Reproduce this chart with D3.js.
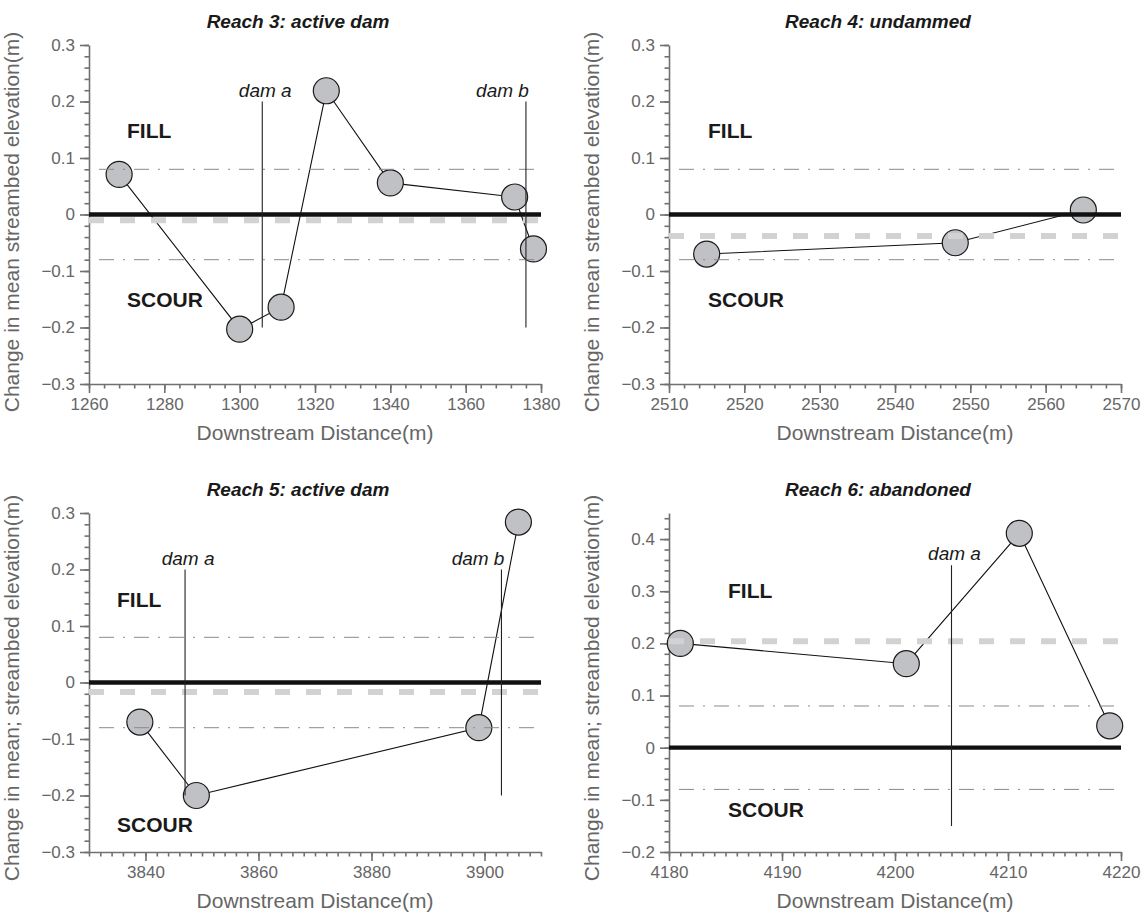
<!DOCTYPE html>
<html>
<head>
<meta charset="utf-8">
<script src="https://cdn.jsdelivr.net/npm/d3@7.9.0/dist/d3.min.js"></script>
<style>
  body { margin: 0; background: #fff; }
  svg { font-family: "Liberation Sans", Arial, Helvetica, sans-serif; }
</style>
</head>
<body>
<svg id="chart" width="1148" height="914"></svg>
<script>
// survey points: downstream distance (m) and change in mean streambed elevation (m)
const reach3Dist = [1268, 1300, 1311, 1323, 1340, 1373, 1378];
const reach3Change = [0.071, -0.203, -0.164, 0.219, 0.056, 0.031, -0.061];
const reach4Dist = [2515, 2548, 2565];
const reach4Change = [-0.07, -0.05, 0.008];
const reach5Dist = [3839, 3849, 3899, 3906];
const reach5Change = [-0.07, -0.2, -0.08, 0.284];
const reach6Dist = [4181, 4201, 4211, 4219];
const reach6Change = [0.2, 0.161, 0.411, 0.042];

const titles = ['Reach 3: active dam', 'Reach 4: undammed', 'Reach 5: active dam', 'Reach 6: abandoned'];
const yLabels = [
  'Change in mean streambed elevation(m)',
  'Change in mean streambed elevation(m)',
  'Change in mean; streambed elevation(m)',
  'Change in mean; streambed elevation(m)'
];
const xLabel = 'Downstream Distance(m)';

const xDomains = [[1260, 1380], [2510, 2570], [3830, 3910], [4180, 4220]];
const yDomains = [[-0.3, 0.3], [-0.3, 0.3], [-0.3, 0.3], [-0.2, 0.45]];
const xTicks = [
  [1260, 1280, 1300, 1320, 1340, 1360, 1380],
  [2510, 2520, 2530, 2540, 2550, 2560, 2570],
  [3840, 3860, 3880, 3900],
  [4180, 4190, 4200, 4210, 4220]
];
const xMinorStep = [4, 2, 2, 1];
const yTicks = [
  [-0.3, -0.2, -0.1, 0, 0.1, 0.2, 0.3],
  [-0.3, -0.2, -0.1, 0, 0.1, 0.2, 0.3],
  [-0.3, -0.2, -0.1, 0, 0.1, 0.2, 0.3],
  [-0.2, -0.1, 0, 0.1, 0.2, 0.3, 0.4]
];
const yMinorStep = 0.02;

const meanChange = [-0.01, -0.038, -0.017, 0.204];   // thick grey dashed line
const threshold = 0.08;                              // dash-dot lines at +/-
const damNames = [['dam a', 'dam b'], [], ['dam a', 'dam b'], ['dam a']];
const damDist = [[1306, 1376], [], [3847, 3903], [4205]];
const damSpan = [[-0.2, 0.2], [], [-0.2, 0.2], [-0.15, 0.35]];

const series = [
  reach3Dist.map((d, i) => ({ x: d, y: reach3Change[i] })),
  reach4Dist.map((d, i) => ({ x: d, y: reach4Change[i] })),
  reach5Dist.map((d, i) => ({ x: d, y: reach5Change[i] })),
  reach6Dist.map((d, i) => ({ x: d, y: reach6Change[i] }))
];

// layout
const plotW = 452, plotH = 339;
const origins = [[89, 45], [669, 45], [89, 513], [669, 513]];
// FILL / SCOUR text positions relative to the plot corner
const fillPos = [[38, 93], [39, 93], [28, 94], [59, 85]];
const scourPos = [[38, 262], [39, 262], [28, 319], [59, 304]];

const axisColor = '#707070';
const tickText = '#666';

const svg = d3.select('#chart');

const fmtY = d => d === 0 ? '0' : d3.format('.1f')(d);
const fmtX = d3.format('d');

function minorTicks(dom, step) {
  let out = [];
  let start = Math.ceil(dom[0] / step - 1e-9) * step;
  for (let v = start; v <= dom[1] + 1e-9; v += step) out.push(Math.round(v * 1000) / 1000);
  return out;
}

function drawPanel(p) {
  const [ox, oy] = origins[p];
  const g = svg.append('g').attr('transform', `translate(${ox},${oy})`);

  const x = d3.scaleLinear().domain(xDomains[p]).range([0, plotW]);
  const y = d3.scaleLinear().domain(yDomains[p]).range([plotH, 0]);

  // minor ticks
  g.append('g')
    .attr('transform', `translate(0,${plotH})`)
    .call(d3.axisBottom(x).tickValues(minorTicks(xDomains[p], xMinorStep[p])).tickSize(4.5).tickSizeOuter(0).tickFormat(''))
    .call(a => a.select('.domain').remove());
  g.append('g')
    .call(d3.axisLeft(y).tickValues(minorTicks(yDomains[p], yMinorStep)).tickSize(4.5).tickSizeOuter(0).tickFormat(''))
    .call(a => a.select('.domain').remove());

  // major axes
  g.append('g')
    .attr('transform', `translate(0,${plotH})`)
    .call(d3.axisBottom(x).tickValues(xTicks[p]).tickSize(9).tickSizeOuter(0).tickPadding(5).tickFormat(fmtX));
  g.append('g')
    .call(d3.axisLeft(y).tickValues(yTicks[p]).tickSize(9).tickSizeOuter(0).tickPadding(5).tickFormat(fmtY));

  g.selectAll('g').attr('font-family', null).attr('font-size', null);
  g.selectAll('.tick line, .domain').attr('stroke', axisColor).attr('stroke-width', 1.6);
  g.selectAll('.tick text').attr('fill', tickText).attr('font-size', 17);

  // data line and points
  const line = d3.line().x(d => x(d.x)).y(d => y(d.y));
  g.append('path')
    .datum(series[p])
    .attr('d', line)
    .attr('fill', 'none')
    .attr('stroke', '#111')
    .attr('stroke-width', 1.1);
  g.selectAll('circle.pt')
    .data(series[p])
    .join('circle')
    .attr('class', 'pt')
    .attr('cx', d => x(d.x))
    .attr('cy', d => y(d.y))
    .attr('r', 13)
    .attr('fill', '#c0c1c5')
    .attr('stroke', '#1a1a1a')
    .attr('stroke-width', 1.2);

  // threshold dash-dot lines
  [threshold, -threshold].forEach(t => {
    g.append('line')
      .attr('x1', x(xDomains[p][0]) + 10).attr('x2', x(xDomains[p][1]))
      .attr('y1', y(t)).attr('y2', y(t))
      .attr('stroke', '#8a8a8a')
      .attr('stroke-width', 1)
      .attr('stroke-dasharray', '15,9,2,9');
  });

  // mean change (thick grey dashes)
  g.append('line')
    .attr('x1', x(xDomains[p][0])).attr('x2', x(xDomains[p][1]))
    .attr('y1', y(meanChange[p])).attr('y2', y(meanChange[p]))
    .attr('stroke', '#d2d2d2')
    .attr('stroke-width', 6)
    .attr('stroke-dasharray', '15,16');

  // zero line
  g.append('line')
    .attr('x1', x(xDomains[p][0])).attr('x2', x(xDomains[p][1]))
    .attr('y1', y(0)).attr('y2', y(0))
    .attr('stroke', '#111')
    .attr('stroke-width', 4.3);

  // dams
  damDist[p].forEach((dx, i) => {
    g.append('line')
      .attr('x1', x(dx)).attr('x2', x(dx))
      .attr('y1', y(damSpan[p][0])).attr('y2', y(damSpan[p][1]))
      .attr('stroke', '#222')
      .attr('stroke-width', 1.1);
    const isB = damNames[p][i] === 'dam b';
    g.append('text')
      .attr('x', x(dx) + 3)
      .attr('y', y(damSpan[p][1]) - 5)
      .attr('text-anchor', isB ? 'end' : 'middle')
      .attr('font-size', 19)
      .attr('font-style', 'italic')
      .attr('fill', '#1a1a1a')
      .text(damNames[p][i]);
  });

  // FILL / SCOUR
  g.append('text')
    .attr('x', fillPos[p][0]).attr('y', fillPos[p][1])
    .attr('font-size', 21).attr('font-weight', 'bold').attr('fill', '#1a1a1a')
    .text('FILL');
  g.append('text')
    .attr('x', scourPos[p][0]).attr('y', scourPos[p][1])
    .attr('font-size', 21).attr('font-weight', 'bold').attr('fill', '#1a1a1a')
    .text('SCOUR');

  // title
  g.append('text')
    .attr('x', plotW / 2 - 17)
    .attr('y', -17)
    .attr('text-anchor', 'middle')
    .attr('font-size', 19)
    .attr('font-weight', 'bold')
    .attr('font-style', 'italic')
    .attr('fill', '#1a1a1a')
    .text(titles[p]);

  // axis titles
  g.append('text')
    .attr('x', plotW / 2)
    .attr('y', plotH + 56)
    .attr('text-anchor', 'middle')
    .attr('font-size', 21)
    .attr('fill', tickText)
    .text(xLabel);
  g.append('text')
    .attr('transform', `translate(${-70},${p < 2 ? 177 : 175}) rotate(-90)`)
    .attr('text-anchor', 'middle')
    .attr('font-size', 21)
    .attr('fill', tickText)
    .text(yLabels[p]);
}

for (let p = 0; p < 4; p++) drawPanel(p);
</script>
</body>
</html>
